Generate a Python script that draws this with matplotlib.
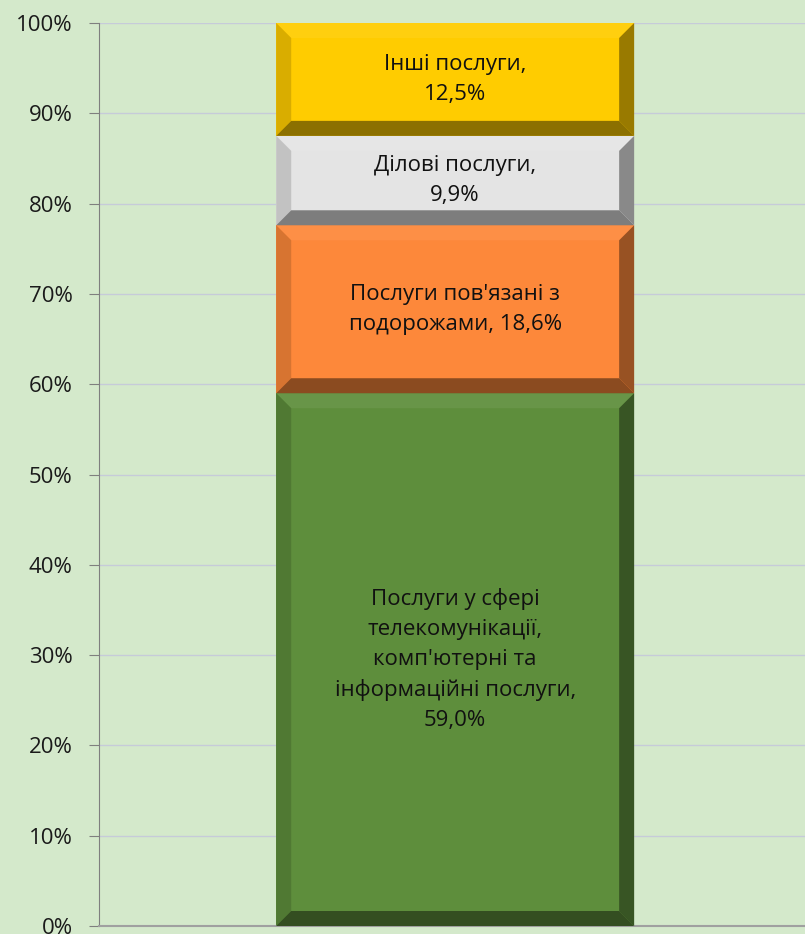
import numpy as np
import matplotlib.pyplot as plt
from matplotlib.patches import Polygon
from matplotlib.colors import to_rgb

# segment data (bottom to top)
labels = [
    "Послуги у сфері\nтелекомунікації,\nкомп'ютерні та\nінформаційні послуги,\n59,0%",
    "Послуги пов'язані з\nподорожами, 18,6%",
    "Ділові послуги,\n9,9%",
    "Інші послуги,\n12,5%",
]
shares = [59.0, 18.6, 9.9, 12.5]
yticks = [0, 10, 20, 30, 40, 50, 60, 70, 80, 90, 100]

colors = ['#5e8e3c', '#fd883a', '#e4e4e4', '#ffcc00']
bg = '#d4e9cb'

plt.rcParams['font.family'] = ['Open Sans', 'DejaVu Sans']

fig = plt.figure(figsize=(8.05, 9.34), dpi=100)
fig.patch.set_facecolor(bg)
ax = fig.add_axes([99 / 805, 8 / 934, 706 / 805, 903 / 934])
ax.set_facecolor(bg)

ax.set_xlim(-0.5, 0.5)
ax.set_ylim(0, 100)
ax.set_yticks(yticks)
ax.set_yticklabels([f'{t}%' for t in yticks], fontsize=16, color='#1a1a1a')
ax.set_xticks([])
ax.grid(axis='y', color='#c6cbd9', linewidth=1)
ax.set_axisbelow(True)
for s in ['top', 'right']:
    ax.spines[s].set_visible(False)
ax.spines['left'].set_color('#7f7f7f')
ax.spines['bottom'].set_color('#a0a0a0')
ax.spines['bottom'].set_linewidth(1.5)
ax.tick_params(axis='y', length=7, color='#7f7f7f', pad=12)


def shade(c, f):
    r = np.array(to_rgb(c))
    if f > 1:
        return tuple(r + (1 - r) * (f - 1))
    return tuple(r * f)


width = 0.507
bw_x = 15 / 706 * 1.0      # bevel width in data units
bw_y = 15 / 903 * 100

bottoms = np.concatenate([[0], np.cumsum(shares)[:-1]])
bars = ax.bar(0.0045, shares, width, bottom=bottoms, color=colors, linewidth=0, zorder=2)

for bar, c, lab in zip(bars, colors, labels):
    x0, y0 = bar.get_x(), bar.get_y()
    x1, y1 = x0 + bar.get_width(), y0 + bar.get_height()
    ix0, ix1, iy0, iy1 = x0 + bw_x, x1 - bw_x, y0 + bw_y, y1 - bw_y
    faces = [
        ([(x0, y1), (x1, y1), (ix1, iy1), (ix0, iy1)], shade(c, 1.06)),   # top
        ([(x0, y0), (x0, y1), (ix0, iy1), (ix0, iy0)], shade(c, 0.85)),   # left
        ([(x1, y0), (x1, y1), (ix1, iy1), (ix1, iy0)], shade(c, 0.6)),    # right
        ([(x0, y0), (x1, y0), (ix1, iy0), (ix0, iy0)], shade(c, 0.55)),   # bottom
    ]
    for pts, fc in faces:
        ax.add_patch(Polygon(pts, closed=True, facecolor=fc, edgecolor='none', zorder=3))
    ax.text((x0 + x1) / 2, (y0 + y1) / 2, lab, ha='center', va='center',
            fontsize=16, color='#111111', linespacing=1.55, zorder=4)

fig.savefig('out.png', dpi=100, facecolor=bg)
